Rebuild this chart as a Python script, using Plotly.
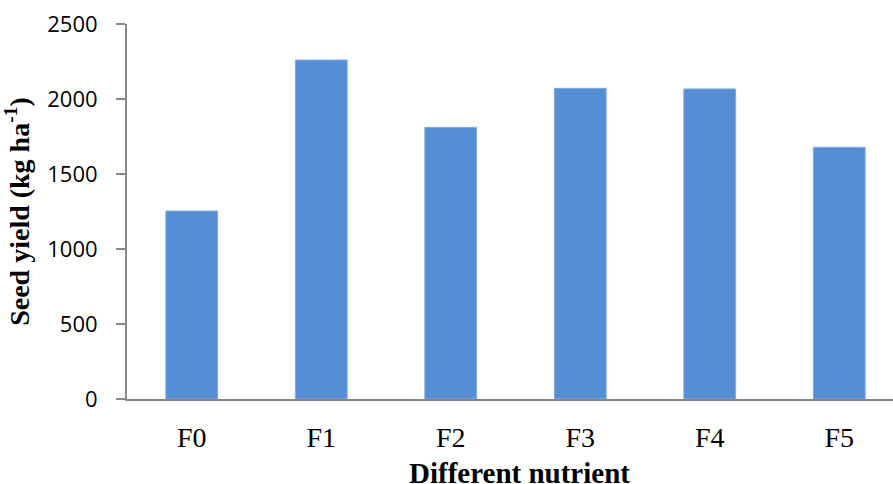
import plotly.graph_objects as go

# Seed yield by nutrient treatment
treatments = ["F0", "F1", "F2", "F3", "F4", "F5"]
seed_yield = [1253, 2260, 1811, 2071, 2067, 1678]

y_ticks = [0, 500, 1000, 1500, 2000, 2500]

fig = go.Figure(
    go.Bar(
        x=treatments,
        y=seed_yield,
        marker=dict(color="#558ED5", line=dict(color="#7FAAE0", width=1)),
        hoverinfo="x+y",
    )
)

fig.update_layout(
    width=893,
    height=484,
    margin=dict(l=127, r=0, t=24, b=85),
    paper_bgcolor="white",
    plot_bgcolor="white",
    showlegend=False,
    bargap=0.6,
    xaxis=dict(
        type="category",
        range=[-0.5, 5.415],
        automargin=False,
        showline=True,
        linecolor="#878787",
        linewidth=2,
        ticks="",
        showgrid=False,
        ticklabelstandoff=12,
        tickfont=dict(family="Liberation Serif", size=28, color="black"),
    ),
    yaxis=dict(
        range=[0, 2500],
        tickvals=y_ticks,
        automargin=False,
        showline=True,
        linecolor="#878787",
        linewidth=2,
        ticks="outside",
        ticklen=9,
        tickwidth=2,
        tickcolor="#878787",
        showgrid=False,
        zeroline=False,
        ticklabelstandoff=14,
        tickfont=dict(family="Open Sans", size=22, color="black"),
        title=dict(
            text="<b>Seed yield (kg ha<sup>-1</sup>)</b>",
            font=dict(family="Liberation Serif", size=28, color="black"),
        ),
    ),
    annotations=[
        dict(
            text="<b>Different nutrient</b>",
            xref="paper",
            yref="paper",
            x=0.512,
            y=-0.196,
            xanchor="center",
            yanchor="middle",
            borderpad=0,
            showarrow=False,
            font=dict(family="Liberation Serif", size=29, color="black"),
        )
    ],
)

fig.write_html("out.html")
